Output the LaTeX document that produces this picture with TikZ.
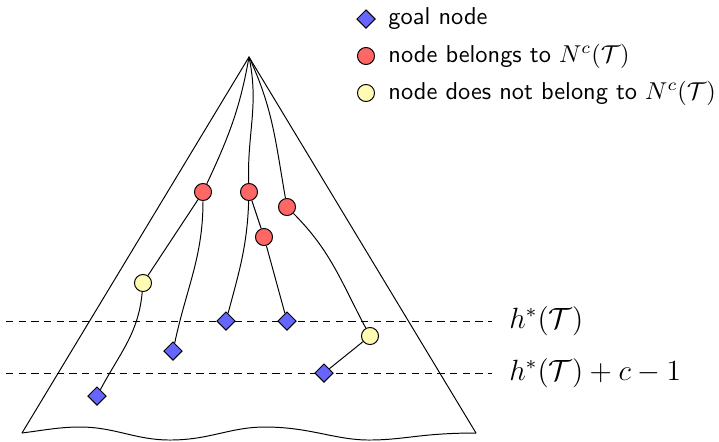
\documentclass[tikz,border=0pt]{standalone}
\usepackage{tikz}
\usetikzlibrary{shapes.geometric}

\begin{document}
\begin{tikzpicture}[x=0.41pt,y=-0.41pt,
   goal/.style={diamond,draw,fill=blue!60,inner sep=0pt,minimum size=7.6pt},
   inN/.style={circle,draw,fill=red!60,inner sep=0pt,minimum size=7pt},
   outN/.style={circle,draw,fill=yellow!30,inner sep=0pt,minimum size=7pt},
   lvl/.style={dash pattern=on 3pt off 2.2pt}]
   \useasboundingbox (0,0) rectangle (719,441);

   % tree
   \coordinate (root) at (249,57);
   \coordinate (bl) at (22,433);
   \coordinate (br) at (476,433);
   \draw (bl) -- (root) -- (br);
   \draw (bl) .. controls (45,430) and (60,427) .. (80,427)
      .. controls (115,427) and (135,440) .. (170,440)
      .. controls (210,440) and (230,427) .. (265,427)
      .. controls (310,427) and (335,440) .. (369,440)
      .. controls (405,440) and (420,433) .. (br);

   % levels
   \coordinate (l1s) at (6,321);
   \coordinate (l1e) at (492,321);
   \coordinate (l2s) at (6,373);
   \coordinate (l2e) at (492,373);
   \draw[lvl] (l1s) -- (l1e);
   \draw[lvl] (l2s) -- (l2e);
   \node[anchor=west,inner sep=0pt] (h1) at (509,321) {\large$h^*(\mathcal{T})$};
   \node[anchor=west,inner sep=0pt] (h2) at (509,373) {\large$h^*(\mathcal{T})+c-1$};

   \node[inN] (r1) at (203,192) {};
   \node[inN] (r2) at (249,192) {};
   \node[inN] (r3) at (287,207) {};
   \node[inN] (r4) at (264,237) {};
   \node[outN] (y1) at (143,283) {};
   \node[outN] (y2) at (370,336) {};
   \node[goal] (g1) at (97,396) {};
   \node[goal] (g2) at (173,351) {};
   \node[goal] (g3) at (226,321) {};
   \node[goal] (g4) at (287,321) {};
   \node[goal] (g5) at (324,373) {};

   \path (root) edge[out=-100,in=65] (r1);
   \path (root) edge[out=-78,in=92] (r2);
   \path (root) edge[out=-65,in=100] (r3);
   \path (r1) edge (y1);
   \path (r1) edge[out=-90,in=78] (g2);
   \path (y1) edge[out=-95,in=62] (g1);
   \path (r2) edge[out=-92,in=75] (g3);
   \path (r2) edge (r4);
   \path (r4) edge (g4);
   \path (r3) edge[out=-45,in=118] (y2);
   \path (y2) edge (g5);

   % legend
   \node[goal] (kg) at (366,19) {};
   \node[inN] (kr) at (366,56) {};
   \node[outN] (ky) at (366,93) {};
   \node[anchor=west,inner sep=0pt] (tg) at (388,19) {\sffamily goal node};
   \node[anchor=west,inner sep=0pt] (tr) at (388,56) {\sffamily node belongs to $N^c(\mathcal{T})$};
   \node[anchor=west,inner sep=0pt] (ty) at (388,93) {\sffamily node does not belong to $N^c(\mathcal{T})$};
\end{tikzpicture}
\end{document}
